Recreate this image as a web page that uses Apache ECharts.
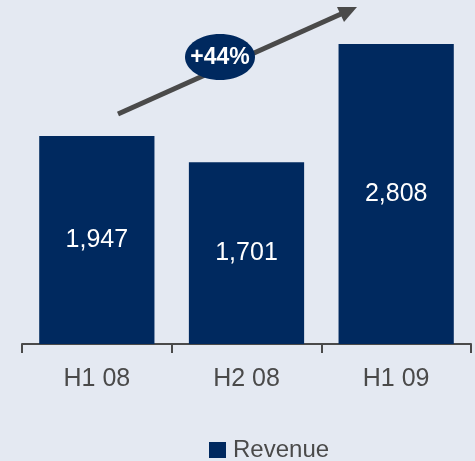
<!DOCTYPE html>
<html>
<head>
<meta charset="utf-8">
<script src="https://cdn.jsdelivr.net/npm/echarts@6/dist/echarts.min.js"></script>
<style>
  html, body { margin: 0; padding: 0; background: #e4e9f2; }
  #chart { width: 475px; height: 461px; }
</style>
</head>
<body>
<div id="chart"></div>
<script>
const categories = ['H1 08', 'H2 08', 'H1 09'];
const revenue = [1947, 1701, 2808];
const growthLabel = '+44%';

const navy = '#00295f';
const grey = '#4a4a4a';
const font = '"Liberation Sans", Arial, sans-serif';

const chart = echarts.init(document.getElementById('chart'));

chart.setOption({
  backgroundColor: '#e4e9f2',
  animation: false,
  grid: { left: 22, right: 4, top: 0, bottom: 117 },
  legend: {
    top: 433,
    left: 204,
    itemWidth: 17,
    itemHeight: 16,
    icon: 'rect',
    textStyle: { fontFamily: font, fontSize: 24, color: grey, padding: [0, 0, 0, 2] },
    data: ['Revenue']
  },
  xAxis: {
    type: 'category',
    data: categories,
    axisLine: { lineStyle: { color: grey, width: 2 } },
    axisTick: { show: true, length: 9, lineStyle: { color: grey, width: 2 } },
    axisLabel: { fontFamily: font, fontSize: 25, color: grey, margin: 23 }
  },
  yAxis: {
    type: 'value',
    min: 0,
    max: 3220,
    show: false,
    splitLine: { show: false }
  },
  series: [{
    name: 'Revenue',
    type: 'bar',
    data: revenue,
    barWidth: '77%',
    itemStyle: { color: navy },
    label: {
      show: true,
      position: 'inside',
      fontFamily: font,
      fontSize: 25,
      color: '#ffffff',
      formatter: p => p.value.toLocaleString('en-US')
    }
  }],
  graphic: [
    {
      type: 'line',
      shape: { x1: 118, y1: 114, x2: 341, y2: 14 },
      style: { stroke: grey, lineWidth: 5 }
    },
    {
      type: 'polygon',
      shape: { points: [[357, 7], [344, 22], [337, 7]] },
      style: { fill: grey }
    },
    {
      type: 'ellipse',
      shape: { cx: 220, cy: 57, rx: 35, ry: 23 },
      style: { fill: navy }
    },
    {
      type: 'text',
      x: 220,
      y: 58,
      style: {
        text: growthLabel,
        fill: '#ffffff',
        font: 'bold 23px ' + font,
        align: 'center',
        verticalAlign: 'middle'
      }
    }
  ]
});
</script>
</body>
</html>
